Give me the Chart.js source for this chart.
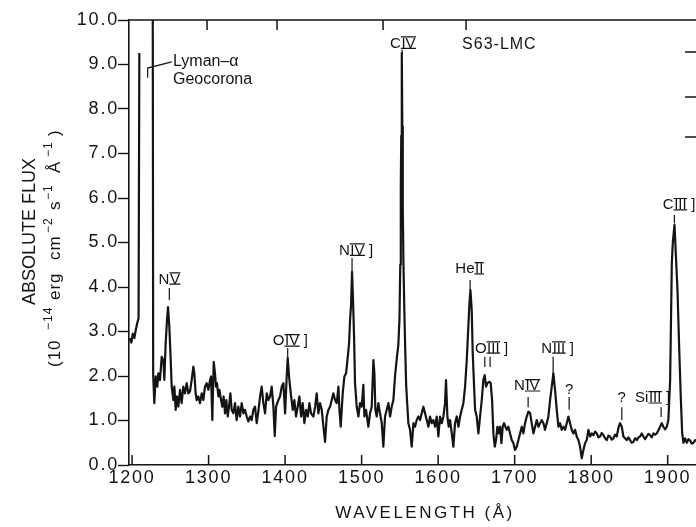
<!DOCTYPE html>
<html>
<head>
<meta charset="utf-8">
<script src="https://cdn.jsdelivr.net/npm/chart.js@4.4.1/dist/chart.umd.min.js"></script>
<style>
  html, body { margin: 0; padding: 0; background: #fff; }
  #wrap { width: 696px; height: 527px; }
</style>
</head>
<body>
<div id="wrap"><canvas id="spectrum" width="696" height="527"></canvas></div>
<script>
// IUE spectrum of S63-LMC (Angstrom, 1e-14 erg/cm2/s/A)
const wavelength = [
  1197, 1199, 1201, 1203, 1205, 1207, 1208.5, 1209.5, 1218, 1227,
  1227.6, 1229.1, 1230.9, 1233.0, 1234.3, 1236.5, 1238.7, 1240.9, 1242.2, 1243.9,
  1245.7, 1247.0, 1248.7, 1250.5, 1251.8, 1254.0, 1255.3, 1257.0, 1258.7, 1260.5,
  1262.7, 1264.8, 1267.0, 1269.2, 1271.4, 1273.6, 1275.7, 1277.9, 1280.1, 1281.4,
  1283.1, 1284.4, 1286.6, 1288.8, 1291.0, 1293.2, 1295.3, 1297.5, 1299.7, 1301.9,
  1303.2, 1304.9, 1306.7, 1308.4, 1309.7, 1311.0, 1312.8, 1314.1, 1316.3, 1318.0,
  1319.7, 1321.5, 1323.2, 1325.0, 1326.7, 1328.5, 1330.2, 1332.4, 1334.6, 1336.7,
  1338.9, 1341.1, 1343.3, 1345.5, 1347.6, 1349.8, 1352.0, 1354.2, 1356.3, 1358.5,
  1360.7, 1362.9, 1365.0, 1367.3, 1369.4, 1371.6, 1373.8, 1376.0, 1378.2, 1380.3,
  1382.5, 1384.7, 1386.5, 1388.2, 1391.2, 1393.4, 1395.6, 1397.8, 1400.0, 1402.1,
  1403.4, 1405.6, 1407.4, 1410.0, 1412.1, 1414.3, 1416.5, 1418.7, 1420.9, 1423.0,
  1425.2, 1427.4, 1429.6, 1431.8, 1433.9, 1437.0, 1439.2, 1441.3, 1443.5, 1445.7,
  1447.9, 1450.1, 1452.2, 1454.4, 1456.6, 1458.8, 1460.9, 1463.1, 1465.3, 1467.5,
  1469.7, 1471.0, 1472.7, 1475.3, 1477.5, 1479.7, 1481.9, 1483.6, 1484.9, 1486.2,
  1487.5, 1488.8, 1490.1, 1491.4, 1493.6, 1495.8, 1497.9, 1500.1, 1502.3, 1503.6,
  1505.8, 1508.8, 1511.0, 1513.2, 1515.4, 1516.7, 1518.0, 1519.7, 1521.9, 1524.1,
  1526.3, 1528.4, 1530.6, 1532.8, 1535.0, 1537.2, 1539.3, 1541.5, 1543.7, 1546.0,
  1548.0, 1549.5, 1550.5, 1551.2, 1551.8, 1552.5, 1553.2, 1553.8, 1554.6, 1555.8,
  1557.0, 1558.2, 1559.5, 1561.1, 1563.3, 1565.5, 1567.7, 1569.8, 1572.0, 1574.2,
  1576.4, 1578.5, 1580.7, 1582.9, 1585.1, 1587.3, 1589.4, 1591.6, 1593.8, 1596.0,
  1598.2, 1600.3, 1602.5, 1604.7, 1606.9, 1609.0, 1610.3, 1612.1, 1613.8, 1615.6,
  1617.8, 1619.9, 1622.1, 1624.3, 1626.5, 1628.7, 1630.8, 1633.0, 1635.2, 1637.4,
  1639.5, 1640.9, 1642.2, 1643.9, 1645.2, 1647.0, 1648.3, 1650.4, 1652.6, 1654.8,
  1657.0, 1659.1, 1660.9, 1662.6, 1664.4, 1667.0, 1668.7, 1670.5, 1672.2, 1674.0,
  1675.7, 1677.5, 1679.2, 1681.0, 1682.7, 1684.4, 1686.2, 1687.9, 1689.7, 1691.8,
  1694.0, 1696.2, 1698.4, 1700.5, 1702.7, 1704.9, 1707.1, 1709.3, 1711.4, 1713.6,
  1715.8, 1718.0, 1720.2, 1722.3, 1724.5, 1726.7, 1728.9, 1731.0, 1733.2, 1735.4,
  1737.6, 1739.7, 1741.9, 1744.1, 1746.3, 1748.5, 1750.6, 1752.8, 1755.0, 1757.2,
  1759.4, 1761.5, 1763.7, 1765.9, 1768.1, 1770.2, 1772.4, 1774.6, 1776.8, 1779.0,
  1781.1, 1783.3, 1785.5, 1787.7, 1789.9, 1792.0, 1794.2, 1796.4, 1798.6, 1800.8,
  1802.9, 1805.1, 1807.3, 1809.5, 1811.6, 1813.8, 1816.0, 1818.2, 1820.4, 1822.5,
  1824.7, 1826.9, 1829.1, 1831.2, 1833.4, 1836.0, 1837.8, 1840.0, 1842.1, 1844.3,
  1846.5, 1848.6, 1850.8, 1853.0, 1855.2, 1857.4, 1859.6, 1861.7, 1863.9, 1866.1,
  1868.3, 1870.4, 1872.6, 1874.8, 1877.0, 1879.2, 1881.4, 1883.5, 1885.7, 1887.9,
  1890.1, 1892.2, 1894.4, 1896.6, 1898.8, 1900.9, 1903.2, 1905.4, 1906.7, 1908.9,
  1911.0, 1912.8, 1915.0, 1917.1, 1918.9, 1920.6, 1922.8, 1925.0, 1927.1, 1929.3,
  1931.5, 1933.7, 1936.0, 1938.0
];
const flux = [
  2.85, 2.75, 2.95, 2.85, 3.05, 3.20, 3.30, 9.26, null, 11,
  2.02, 1.39, 1.99, 1.76, 2.06, 1.91, 2.43, 2.36, 1.91, 2.73,
  3.26, 3.55, 3.11, 2.36, 1.76, 1.46, 1.76, 1.24, 1.54, 1.31,
  1.69, 1.39, 1.76, 1.61, 1.84, 1.61, 1.65, 1.91, 2.21, 2.06,
  1.61, 1.46, 1.54, 1.39, 1.61, 1.46, 1.76, 1.84, 1.69, 1.91,
  1.99, 1.01, 2.32, 2.06, 1.76, 1.84, 1.54, 1.69, 1.46, 1.31,
  1.54, 1.16, 1.46, 1.09, 1.31, 1.61, 1.24, 1.16, 1.39, 1.01,
  1.31, 1.09, 1.39, 1.16, 1.24, 1.09, 0.98, 1.09, 1.01, 1.24,
  1.31, 0.94, 1.20, 1.54, 1.76, 1.39, 1.16, 1.61, 1.46, 1.54,
  1.76, 1.31, 0.65, 1.31, 1.46, 1.54, 1.76, 1.84, 1.16, 1.99,
  2.40, 1.91, 1.61, 1.24, 1.46, 1.09, 1.31, 1.54, 1.09, 1.39,
  0.94, 1.24, 1.09, 1.39, 1.16, 1.09, 1.31, 1.61, 1.16, 1.39,
  1.24, 0.86, 0.52, 1.09, 1.24, 1.31, 1.46, 1.61, 1.46, 1.39,
  1.76, 1.24, 0.86, 1.61, 1.99, 2.06, 2.43, 2.73, 3.26, 3.60,
  4.35, 3.70, 2.90, 1.84, 1.31, 1.09, 1.39, 1.31, 1.80, 1.09,
  1.24, 0.86, 1.16, 1.31, 2.36, 2.06, 1.24, 1.09, 1.39, 1.16,
  0.94, 0.41, 1.09, 1.24, 1.39, 1.09, 1.31, 1.46, 2.00, 2.40,
  2.70, 3.30, 4.50, 6.20, 7.40, 9.25, 7.60, 5.80, 4.60, 3.50,
  2.60, 1.80, 1.40, 0.94, 0.79, 0.41, 0.94, 0.86, 1.01, 1.09,
  1.01, 1.16, 1.31, 1.16, 1.01, 0.86, 1.09, 0.94, 1.01, 0.86,
  1.09, 0.64, 1.09, 0.94, 1.09, 1.39, 1.91, 1.09, 0.86, 1.01,
  0.71, 0.41, 0.94, 1.09, 0.86, 1.09, 1.24, 1.39, 1.76, 2.36,
  3.11, 3.63, 3.93, 3.48, 2.51, 1.76, 1.24, 1.09, 0.71, 1.09,
  1.46, 1.91, 2.02, 1.76, 1.84, 1.87, 1.84, 1.46, 0.71, 0.41,
  0.56, 0.86, 0.71, 0.86, 0.49, 0.86, 0.94, 0.86, 0.79, 0.86,
  0.71, 0.56, 0.49, 0.34, 0.41, 0.56, 0.71, 0.86, 0.71, 0.94,
  1.09, 1.20, 1.16, 0.94, 0.71, 0.86, 1.01, 0.86, 0.94, 1.01,
  0.94, 0.79, 0.94, 1.09, 1.46, 1.76, 2.06, 1.69, 1.24, 0.86,
  0.94, 0.79, 0.86, 0.79, 0.94, 1.09, 0.94, 0.79, 0.71, 0.79,
  0.64, 0.56, 0.41, 0.15, 0.34, 0.49, 0.56, 0.79, 0.64, 0.71,
  0.67, 0.75, 0.71, 0.62, 0.64, 0.72, 0.67, 0.60, 0.56, 0.66,
  0.64, 0.57, 0.60, 0.68, 0.64, 0.86, 0.94, 0.86, 0.64, 0.60,
  0.56, 0.62, 0.56, 0.50, 0.52, 0.60, 0.56, 0.62, 0.64, 0.71,
  0.64, 0.58, 0.64, 0.70, 0.67, 0.62, 0.71, 0.68, 0.71, 0.78,
  0.86, 0.94, 0.86, 0.80, 0.86, 1.01, 1.91, 4.54, 5.00, 5.40,
  4.60, 3.93, 2.65, 1.53, 0.72, 0.50, 0.60, 0.50, 0.58, 0.55,
  0.48, 0.50, 0.56, 0.55
];

const xTicks = [1200, 1300, 1400, 1500, 1600, 1700, 1800, 1900];
const yTicks = [0, 1, 2, 3, 4, 5, 6, 7, 8, 9, 10];
const topTickWaves = [1298, 1389.5, 1528, 1636.5];
const rightTickFlux = [9.28, 8.27, 7.37];

// line identifications
const ionNames    = ['N', 'O',  'N',  'C',  'He', 'O',   'N',  'N',   '?', '?', 'Si',  'C'];
const ionStages   = ['V', 'IV', 'IV', 'IV', 'II', 'III', 'IV', 'III', '',  '',  'III', 'III'];
const ionBrackets = ['',  ']',  ']',  '',   '',   ']',   '',   ']',   '',  '',  ']',   ']'];
const labelWave   = [1248.9, 1406.9, 1492.7, 1554.2, 1641.1, 1669.9, 1716.3, 1756.1, 1771.2, 1840.0, 1880.3, 1914.9];
const labelFlux   = [4.20, 2.81, 4.85, 9.50, 4.43, 2.65, 1.80, 2.65, 1.73, 1.53, 1.53, 5.87];
const markWave    = [1248.7, 1403.4, 1487.5, 1553.0, 1641.8, 1661.0, 1667.9, 1717.6, 1750.3, 1771.2, 1840.0, 1891.4, 1908.8];
const markTop     = [3.98, 2.63, 4.65, 9.33, 4.16, 2.43, 2.43, 1.53, 2.43, 1.53, 1.30, 1.30, 5.62];
const markBottom  = [3.71, 2.36, 4.38, 9.22, 3.93, 2.20, 2.20, 1.30, 1.98, 1.24, 1.01, 1.08, 5.44];

const lymanText = ['Lyman\u2013\u03b1', 'Geocorona'];
const lymanWave = 1253.5;
const lymanFlux = [9.06, 8.67];
const lymanPointerWave = [1220.4, 1220.4, 1251.8];
const lymanPointerFlux = [8.70, 8.92, 9.06];
const objectName = 'S63-LMC';
const objectWave = 1631.3;
const objectFlux = 9.44;

const INK = '#141414';
const SANS = '"Liberation Sans", Arial, Helvetica, sans-serif';

function drawIon(ctx, cx, cy, name, stage, bracket) {
  ctx.font = '15px ' + SANS;
  ctx.letterSpacing = '0px';
  const wName = ctx.measureText(name).width;
  const wStage = stage ? ctx.measureText(stage).width + 1 : 0;
  const wBr = bracket ? ctx.measureText(bracket).width + 4 : 0;
  const x0 = cx - (wName + wStage + wBr) / 2;
  const base = cy + 5.5;
  ctx.textAlign = 'left';
  ctx.textBaseline = 'alphabetic';
  ctx.fillText(name, x0, base);
  if (stage) {
    const xs = x0 + wName + 0.5;
    ctx.fillText(stage, xs, base);
    ctx.lineWidth = 1.2;
    ctx.beginPath();
    ctx.moveTo(xs - 0.5, base - 10.8); ctx.lineTo(xs + wStage - 0.5, base - 10.8);
    ctx.moveTo(xs - 0.5, base + 0.6); ctx.lineTo(xs + wStage - 0.5, base + 0.6);
    ctx.stroke();
  }
  if (bracket) ctx.fillText(bracket, x0 + wName + wStage + 4, base);
}

const decorations = {
  id: 'decorations',
  beforeDraw(chart) {
    chart.ctx.letterSpacing = '1.8px';
  },
  afterDraw(chart) {
    const { ctx, chartArea: a } = chart;
    const x = chart.scales.x, y = chart.scales.y;
    ctx.save();
    ctx.strokeStyle = INK;
    ctx.fillStyle = INK;

    // top frame and inward ticks
    ctx.lineWidth = 1.5;
    ctx.beginPath();
    ctx.moveTo(a.left, a.top); ctx.lineTo(a.right, a.top);
    xTicks.forEach(v => {
      const px = x.getPixelForValue(v);
      ctx.moveTo(px, a.bottom); ctx.lineTo(px, a.bottom - 10);
    });
    topTickWaves.forEach(v => {
      const px = x.getPixelForValue(v);
      ctx.moveTo(px, a.top); ctx.lineTo(px, a.top + 10);
    });
    rightTickFlux.forEach(v => {
      const py = y.getPixelForValue(v);
      ctx.moveTo(a.right - 11, py); ctx.lineTo(a.right, py);
    });
    ctx.stroke();

    // line markers
    ctx.lineWidth = 1.2;
    ctx.beginPath();
    markWave.forEach((w, i) => {
      const px = x.getPixelForValue(w);
      ctx.moveTo(px, y.getPixelForValue(markTop[i]));
      ctx.lineTo(px, y.getPixelForValue(markBottom[i]));
    });
    ctx.stroke();

    // line labels
    ionNames.forEach((n, i) => {
      drawIon(ctx, x.getPixelForValue(labelWave[i]), y.getPixelForValue(labelFlux[i]),
        n, ionStages[i], ionBrackets[i]);
    });

    // Lyman-alpha note
    ctx.lineWidth = 1.2;
    ctx.beginPath();
    lymanPointerWave.forEach((w, i) => {
      const px = x.getPixelForValue(w), py = y.getPixelForValue(lymanPointerFlux[i]);
      if (i === 0) ctx.moveTo(px, py); else ctx.lineTo(px, py);
    });
    ctx.stroke();
    ctx.font = '16px ' + SANS;
    ctx.letterSpacing = '0px';
    ctx.textAlign = 'left';
    ctx.textBaseline = 'middle';
    lymanText.forEach((t, i) => {
      ctx.fillText(t, x.getPixelForValue(lymanWave), y.getPixelForValue(lymanFlux[i]));
    });
    ctx.letterSpacing = '1px';
    ctx.fillText(objectName, x.getPixelForValue(objectWave), y.getPixelForValue(objectFlux));

    // x axis title
    ctx.font = '17px ' + SANS;
    ctx.letterSpacing = '2.5px';
    ctx.textAlign = 'center';
    ctx.fillText('WAVELENGTH (\u00c5)', a.left + 296, 513);

    // y axis title, two rotated lines
    ctx.save();
    ctx.translate(a.left - 99, (a.top + a.bottom) / 2 - 11);
    ctx.rotate(-Math.PI / 2);
    ctx.font = '18px ' + SANS;
    ctx.letterSpacing = '0px';
    ctx.textAlign = 'center';
    ctx.textBaseline = 'middle';
    ctx.fillText('ABSOLUTE FLUX', 0, 0);
    ctx.restore();

    ctx.save();
    ctx.translate(a.left - 74, 367);
    ctx.rotate(-Math.PI / 2);
    ctx.textAlign = 'left';
    ctx.textBaseline = 'middle';
    ctx.letterSpacing = '1px';
    const parts = [
      ['(10', 0, false], ['\u221214', 37, true], ['erg', 67, false], ['cm', 107, false],
      ['\u22122', 134, true], ['s', 157, false], ['\u22121', 167, true],
      ['\u00c5', 194, false], ['\u22121', 210, true], [')', 231, false]
    ];
    parts.forEach(([t, off, sup]) => {
      ctx.font = (sup ? '12px ' : '17px ') + SANS;
      ctx.fillText(t, off, sup ? -6 : 0);
    });
    ctx.restore();

    ctx.restore();
  }
};

new Chart(document.getElementById('spectrum'), {
  type: 'line',
  data: {
    datasets: [{
      data: wavelength.map((w, i) => ({ x: w, y: flux[i] })),
      borderColor: INK,
      borderWidth: 2.2,
      borderJoinStyle: 'round',
      pointRadius: 0,
      tension: 0,
      spanGaps: false
    }]
  },
  options: {
    responsive: false,
    animation: false,
    layout: { padding: { top: 20, left: 0, right: 0, bottom: 0 } },
    plugins: { legend: { display: false }, tooltip: { enabled: false } },
    scales: {
      x: {
        type: 'linear',
        min: 1196,
        max: 1937,
        afterBuildTicks: s => { s.ticks = xTicks.map(v => ({ value: v })); },
        afterFit: s => { s.height = 62; },
        grid: { display: true, drawOnChartArea: false, drawTicks: false },
        border: { display: true, color: INK, width: 1.6 },
        ticks: {
          color: INK,
          padding: 2,
          maxRotation: 0,
          font: { family: SANS, size: 18 },
          callback: v => String(v)
        }
      },
      y: {
        min: 0,
        max: 10,
        afterBuildTicks: s => { s.ticks = yTicks.map(v => ({ value: v })); },
        afterFit: s => { s.width = 129; },
        grid: { drawOnChartArea: false, drawTicks: true, tickLength: 11, tickColor: INK, tickWidth: 1.4 },
        border: { display: true, color: INK, width: 1.6 },
        ticks: {
          color: INK,
          padding: -1,
          font: { family: SANS, size: 18 },
          callback: v => v.toFixed(1)
        }
      }
    }
  },
  plugins: [decorations]
});
</script>
</body>
</html>
